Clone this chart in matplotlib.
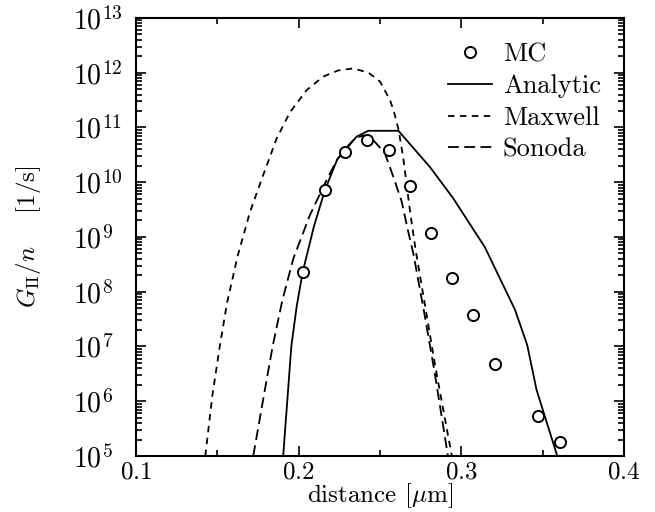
"""G_II/n versus distance: MC points against Analytic, Maxwell and Sonoda curves."""

import matplotlib

matplotlib.use("Agg")
import matplotlib.pyplot as plt
from matplotlib.legend_handler import HandlerLine2D
from matplotlib.ticker import FixedLocator, LogLocator, MultipleLocator, NullFormatter


# Monte Carlo points
MC_X = [0.2025, 0.2162, 0.2285, 0.2418, 0.2557, 0.2684, 0.2813, 0.2944, 0.3073, 0.3207, 0.3469, 0.3606]
MC_Y = [2.3e8, 7.2e9, 3.5e10, 5.8e10, 3.9e10, 8.5e9, 1.2e9, 1.8e8, 3.8e7, 4.8e6, 5.4e5, 1.8e5]

ANALYTIC_X = [0.1905, 0.1930, 0.1955, 0.1988, 0.2025, 0.2095, 0.2162, 0.2237, 0.2356, 0.2428,
              0.2613, 0.2807, 0.2950, 0.3145, 0.3330, 0.3405, 0.3463, 0.3590]
ANALYTIC_Y = [1e5, 1e6, 1e7, 5.4e7, 2.3e8, 1.6e9, 7.2e9, 2.6e10, 6.8e10, 8.7e10,
              8.7e10, 1.9e10, 5.1e9, 6.5e8, 4.7e7, 1.07e7, 1.6e6, 1e5]

MAXWELL_X = [0.1426, 0.1470, 0.1515, 0.1560, 0.1625, 0.1700, 0.1780, 0.1865, 0.1947, 0.2049,
             0.2151, 0.2243, 0.2336, 0.2430, 0.2500, 0.2561, 0.2585, 0.2615, 0.2643, 0.2684,
             0.2720, 0.2780, 0.2842, 0.2942]
MAXWELL_Y = [1e5, 1.3e6, 1e7, 6.3e7, 4.5e8, 2.8e9, 1.3e10, 6.3e10, 1.9e11, 4.8e11,
             8.5e11, 1.1e12, 1.2e12, 1.0e12, 6.9e11, 3.2e11, 2e11, 8.9e10, 2.8e10, 3.1e9,
             5.6e8, 5e7, 4e6, 1e5]

SONODA_X = [0.1721, 0.1780, 0.1840, 0.1900, 0.1967, 0.2069, 0.2172, 0.2237, 0.2300, 0.2346,
            0.2400, 0.2450, 0.2530, 0.2582, 0.2633, 0.2670, 0.2705, 0.2770, 0.2835, 0.2918]
SONODA_Y = [1e5, 1e6, 1e7, 7e7, 4e8, 2.5e9, 1.1e10, 2.6e10, 4.5e10, 6.3e10,
            7.2e10, 6.3e10, 3.4e10, 1.26e10, 4.5e9, 1.4e9, 5e8, 4.5e7, 3.5e6, 1e5]

Y_DECADES = list(range(5, 14))


class _MarkerAtRight(HandlerLine2D):
    """Put the single legend marker at the right end of the handle."""

    def get_xdata(self, legend, xdescent, ydescent, width, height, fontsize):
        xdata, _ = super().get_xdata(legend, xdescent, ydescent, width, height, fontsize)
        return xdata, [-xdescent + width]


def main() -> None:
    plt.rcParams.update(
        {
            "font.family": "serif",
            "font.serif": ["cmr10"],
            "mathtext.fontset": "cm",
            "axes.formatter.use_mathtext": True,
            "font.size": 18,
        }
    )

    fig = plt.figure(figsize=(6.55, 5.12), dpi=100)
    ax = fig.add_axes([0.2076, 0.1094, 0.7450, 0.8555])

    mc, = ax.plot(MC_X, MC_Y, linestyle="none", marker="o", markersize=8,
                  markerfacecolor="white", markeredgecolor="black", markeredgewidth=1.4, label="MC", zorder=3)
    ax.plot(ANALYTIC_X, ANALYTIC_Y, color="black", linewidth=1.3, label="Analytic")
    ax.plot(MAXWELL_X, MAXWELL_Y, color="black", linewidth=1.3, dashes=(3.6, 3.0), label="Maxwell")
    ax.plot(SONODA_X, SONODA_Y, color="black", linewidth=1.3, dashes=(6.0, 3.0), label="Sonoda")

    ax.set_yscale("log")
    ax.set_xlim(0.1, 0.4)
    ax.set_ylim(1e5, 1e13)
    ax.xaxis.set_major_locator(MultipleLocator(0.1))
    ax.xaxis.set_minor_locator(MultipleLocator(0.05))
    ax.yaxis.set_major_locator(FixedLocator([10.0 ** k for k in Y_DECADES]))
    ax.yaxis.set_minor_locator(LogLocator(base=10, subs=range(2, 10), numticks=20))
    ax.yaxis.set_minor_formatter(NullFormatter())
    ax.tick_params(which="both", direction="in", top=True, right=True, width=1.2)
    ax.tick_params(which="major", length=7)
    ax.tick_params(which="minor", length=4)
    ax.tick_params(axis="x", which="major", pad=4)
    # the y labels in the original are left-aligned at a common x
    ax.tick_params(axis="y", which="major", pad=45, labelsize=20)
    for label in ax.get_yticklabels():
        label.set_horizontalalignment("left")

    for spine in ax.spines.values():
        spine.set_linewidth(1.5)

    ax.set_xlabel(r"distance [$\mu$m]", labelpad=-2)
    ax.set_ylabel(r"$G_{\rm II}/n$    [1/s]")
    ax.yaxis.set_label_coords(-0.19, 0.5)

    ax.legend(
        handler_map={mc: _MarkerAtRight(numpoints=1)},
        loc="upper left",
        bbox_to_anchor=(0.639, 0.943),
        frameon=False,
        fontsize=19,
        borderpad=0,
        borderaxespad=0,
        handlelength=1.67,
        handletextpad=0.42,
        labelspacing=0.30,
    )

    fig.savefig("out.png", dpi=100)
    plt.close(fig)


if __name__ == "__main__":
    main()
